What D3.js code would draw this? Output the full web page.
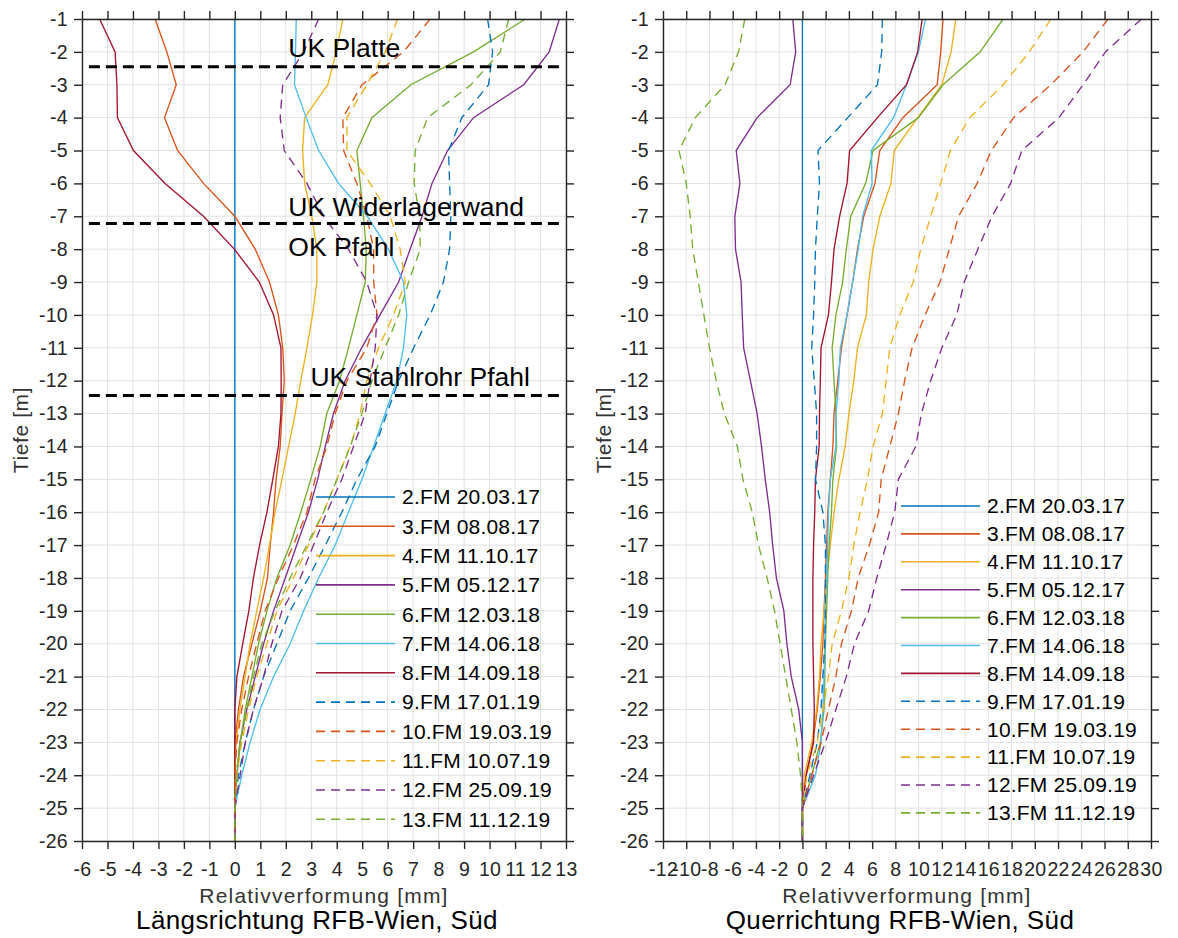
<!DOCTYPE html>
<html><head><meta charset="utf-8">
<script src="https://cdn.jsdelivr.net/npm/d3@7"></script>
<style>
body{margin:0;background:#fff;}
svg{display:block;}
text{font-family:"Liberation Sans",Arial,sans-serif;}
</style></head>
<body>
<svg id="chart" width="1178" height="938"></svg>
<script>
// ---------- DATA ----------
const depths = d3.range(-1, -27, -1); // -1 ... -26 m

const seriesNames = ["2.FM 20.03.17","3.FM 08.08.17","4.FM 11.10.17","5.FM 05.12.17","6.FM 12.03.18","7.FM 14.06.18","8.FM 14.09.18","9.FM 17.01.19","10.FM 19.03.19","11.FM 10.07.19","12.FM 25.09.19","13.FM 11.12.19"];
const seriesColors = ["#0072BD","#D95319","#EDB120","#7E2F8E","#77AC30","#4DBEEE","#A2142F","#0072BD","#D95319","#EDB120","#7E2F8E","#77AC30"];
const seriesDashed = [false,false,false,false,false,false,false,true,true,true,true,true];

// Längsrichtung (left panel)
const L2  = [0,0,0,0,0,0,0,0,0,0,0,0,0,0,0,0,0,0,0,0,0,0,0,0,0,0];
const L3  = [-3.13,-2.67,-2.30,-2.76,-2.25,-1.23,0,0.80,1.36,1.71,1.88,1.94,1.85,1.78,1.62,1.52,1.39,1.28,1.0,0.67,0.34,0.14,0.01,0,0,0];
const L4  = [4.24,3.98,3.65,2.74,2.66,2.74,3.02,3.22,3.22,3.05,2.83,2.59,2.37,2.11,1.85,1.58,1.36,1.13,0.86,0.60,0.40,0.20,0.05,0,0,0];
const L5  = [12.74,12.34,11.34,9.37,8.35,7.74,7.35,6.88,6.43,5.70,4.98,4.33,3.87,3.55,3.25,2.89,2.43,1.98,1.52,1.13,0.80,0.47,0.20,0.08,0,0];
const L6  = [11.40,9.37,6.91,5.38,4.79,4.92,5.05,5.16,5.12,4.79,4.46,4.11,3.61,3.35,2.98,2.59,2.17,1.65,1.26,0.93,0.67,0.41,0.21,0.08,0,0];
const L7  = [2.41,2.38,2.34,2.80,3.29,4.07,5.20,6.03,6.62,6.75,6.62,6.36,5.90,5.45,4.99,4.46,3.94,3.29,2.70,2.17,1.52,0.99,0.60,0.27,0,0];
const L8  = [-5.31,-4.70,-4.63,-4.61,-3.98,-2.74,-1.23,-0.02,0.96,1.52,1.81,1.82,1.81,1.71,1.49,1.26,0.97,0.73,0.55,0.31,0.08,0,0,0,0,0];
const L9  = [9.92,10.12,9.96,8.91,8.39,8.43,8.48,8.43,8.19,7.67,7.02,6.43,5.97,5.51,4.79,4.20,3.55,2.89,2.17,1.65,1.13,0.73,0.41,0.14,0,0];
const L10 = [7.67,6.62,4.99,4.24,4.27,4.79,5.18,5.45,5.45,5.58,5.18,4.40,3.94,3.61,3.15,2.83,2.30,1.71,1.19,0.86,0.54,0.27,0.08,0,0,0];
const L11 = [6.39,5.90,5.18,4.40,4.40,5.31,6.10,6.49,6.69,6.23,5.64,5.18,4.92,4.53,4.01,3.48,2.89,2.30,1.65,1.26,0.86,0.54,0.27,0.08,0,0];
const L12 = [3.29,2.70,1.88,1.78,1.94,2.83,3.48,4.46,5.18,5.58,5.51,5.31,5.12,4.66,4.20,3.61,3.09,2.57,1.85,1.45,1.13,0.73,0.41,0.21,0,0];
const L13 = [10.75,10.42,9.27,7.57,7.08,7.04,7.25,7.28,6.82,6.43,5.90,5.38,4.99,4.53,4.01,3.48,2.83,2.17,1.58,1.06,0.73,0.47,0.21,0.05,0,0];

// Querrichtung (right panel)
const R2  = [0,0,0,0,0,0,0,0,0,0,0,0,0,0,0,0,0,0,0,0,0,0,0,0,0,0];
const R3  = [12.1,11.9,11.6,8.64,6.66,6.24,5.28,4.74,4.32,3.84,3.36,3.04,2.72,2.62,2.4,2.18,2.08,1.98,1.86,1.76,1.54,1.28,0.9,0.32,0,0];
const R4  = [13.2,12.8,12.0,9.92,7.9,7.62,6.66,6.08,5.7,5.5,4.74,4.42,4.0,3.68,3.14,2.72,2.4,2.08,1.86,1.6,1.47,1.22,0.8,0.16,0,0];
const R5  = [-0.83,-0.58,-1.06,-3.9,-5.7,-5.38,-5.82,-5.76,-5.28,-5.18,-5.06,-4.48,-3.9,-3.52,-3.2,-2.82,-2.56,-2.24,-1.6,-1.34,-0.96,-0.32,0,0,0,0];
const R6  = [17.28,15.3,12.1,9.98,6.08,5.44,4.16,3.78,3.46,2.88,2.56,2.72,2.88,2.94,2.62,2.5,2.3,2.18,2.08,1.98,1.92,1.86,1.54,0.8,0,0];
const R7  = [10.6,9.98,8.96,7.84,5.92,6.0,5.18,4.8,4.32,3.84,3.26,3.14,2.88,2.88,2.4,2.24,2.18,2.08,1.98,1.92,1.86,1.76,1.6,1.12,0,0];
const R8  = [10.3,9.92,8.96,6.46,4.06,3.84,3.2,2.72,2.5,2.24,1.6,1.54,1.47,1.44,1.12,1.06,0.96,0.9,0.9,0.9,0.96,1.02,0.96,0.32,0,0];
const R9  = [6.88,6.82,6.46,3.9,1.34,1.47,1.28,1.12,1.06,0.96,0.8,1.02,1.22,1.22,1.12,1.76,1.98,1.98,1.98,1.92,1.76,1.6,1.28,0.64,0,0];
const R10 = [26.3,24.16,21.38,18.18,16.26,15.04,13.44,12.64,11.84,10.56,9.44,8.8,8.26,7.52,6.78,6.56,5.76,4.8,4.22,3.36,2.88,2.24,1.6,0.8,0,0];
const R11 = [21.38,19.52,17.28,14.4,12.74,11.9,11.04,10.18,9.54,8.38,7.52,7.2,6.88,6.08,5.6,4.96,4.42,4.0,3.36,2.56,2.24,1.76,1.28,0.38,0,0];
const R12 = [29.18,26.08,24.16,22.08,18.88,17.92,16.32,15.1,13.92,13.28,12.0,11.04,10.24,9.76,8.26,7.94,7.2,6.4,5.7,4.48,3.78,2.88,1.98,0.96,0,0];
const R13 = [-4.96,-5.5,-6.66,-9.22,-10.62,-10.0,-9.66,-9.44,-8.96,-8.48,-8.0,-7.42,-6.72,-5.6,-5.12,-4.32,-3.78,-3.04,-2.4,-1.92,-1.44,-0.96,-0.48,-0.16,0,0];

const leftSeries  = [L2,L3,L4,L5,L6,L7,L8,L9,L10,L11,L12,L13];
const rightSeries = [R2,R3,R4,R5,R6,R7,R8,R9,R10,R11,R12,R13];

const leftXTicks  = d3.range(-6, 14, 1);
const rightXTicks = d3.range(-12, 31, 2);
const yTicks      = d3.range(-1, -27, -1);

// annotation lines (left panel)
const markerDepths = [-2.45, -7.22, -12.45];
const markerTexts  = [
  {t:"UK Platte", x:2.1, y:-2.17},
  {t:"UK Widerlagerwand", x:2.1, y:-6.98},
  {t:"OK Pfahl", x:2.1, y:-8.2},
  {t:"UK Stahlrohr Pfahl", x:2.97, y:-12.16}
];

const titles = ["Längsrichtung RFB-Wien, Süd","Querrichtung RFB-Wien, Süd"];

// ---------- DRAW ----------
const svg = d3.select("#chart");
const plotTop = 19, plotBottom = 841;

function panel(cfg){
  const g = svg.append("g");
  const x = d3.scaleLinear().domain(cfg.xDomain).range([cfg.x0, cfg.x1]);
  const y = d3.scaleLinear().domain([-1, -26]).range([plotTop, plotBottom]);
  const fmt = d => String(d);

  // grid
  g.append("g").selectAll("line").data(cfg.xTicks).join("line")
    .attr("x1", d=>x(d)).attr("x2", d=>x(d)).attr("y1", plotTop).attr("y2", plotBottom)
    .attr("stroke", "#e1e1e1").attr("stroke-width", 1);
  g.append("g").selectAll("line").data(yTicks).join("line")
    .attr("y1", d=>y(d)).attr("y2", d=>y(d)).attr("x1", cfg.x0).attr("x2", cfg.x1)
    .attr("stroke", "#e1e1e1").attr("stroke-width", 1);

  // data lines
  const line = d3.line().x(d=>x(d[0])).y(d=>y(d[1]));
  cfg.series.forEach((s,i)=>{
    g.append("path")
      .datum(s.map((v,k)=>[v, depths[k]]))
      .attr("d", line)
      .attr("fill","none")
      .attr("stroke", seriesColors[i])
      .attr("stroke-width", 1.35)
      .attr("stroke-dasharray", seriesDashed[i] ? "9,6" : null);
  });

  // axes
  const axStyle = sel => {
    sel.selectAll("path").attr("stroke","#262626").attr("stroke-width",1.4);
    sel.selectAll("line").attr("stroke","#262626").attr("stroke-width",1.4);
    sel.selectAll("text").attr("fill","#262626").style("font-size","19.5px").style("letter-spacing","0.3px")
      .style("font-family",'"Liberation Sans",Arial,sans-serif');
  };
  const ax = g.append("g").attr("transform",`translate(0,${plotBottom})`)
    .call(d3.axisBottom(x).tickValues(cfg.xTicks).tickFormat(fmt).tickSize(8).tickSizeOuter(0).tickPadding(13));
  axStyle(ax);
  const axT = g.append("g").attr("transform",`translate(0,${plotTop})`)
    .call(d3.axisTop(x).tickValues(cfg.xTicks).tickFormat("").tickSize(8).tickSizeOuter(0));
  axStyle(axT);
  const ay = g.append("g").attr("transform",`translate(${cfg.x0},0)`)
    .call(d3.axisLeft(y).tickValues(yTicks).tickFormat(fmt).tickSize(8).tickSizeOuter(0).tickPadding(6));
  axStyle(ay);
  const ayR = g.append("g").attr("transform",`translate(${cfg.x1},0)`)
    .call(d3.axisRight(y).tickValues(yTicks).tickFormat("").tickSize(8).tickSizeOuter(0));
  axStyle(ayR);

  // labels
  g.append("text").attr("x",(cfg.x0+cfg.x1)/2).attr("y",903).attr("text-anchor","middle")
    .attr("fill","#333").style("font-size","21px").style("letter-spacing","1.2px")
    .text("Relativverformung [mm]");
  g.append("text").attr("x",(cfg.x0+cfg.x1)/2-7).attr("y",929).attr("text-anchor","middle")
    .attr("fill","#000").style("font-size","26px").style("letter-spacing","0.4px")
    .text(cfg.title);
  g.append("text").attr("transform",`translate(${cfg.yLabelX},430) rotate(-90)`)
    .attr("text-anchor","middle").attr("fill","#333").style("font-size","21px").style("letter-spacing","0.6px")
    .text("Tiefe [m]");

  // legend
  const lg = g.append("g");
  seriesNames.forEach((n,i)=>{
    const yy = cfg.legY0 + i*cfg.legDy;
    lg.append("line").attr("x1",cfg.legX0).attr("x2",cfg.legX1).attr("y1",yy).attr("y2",yy)
      .attr("stroke",seriesColors[i]).attr("stroke-width",1.6)
      .attr("stroke-dasharray", seriesDashed[i] ? "9,6" : null);
    lg.append("text").attr("x",cfg.legX1+7).attr("y",yy).attr("dy","0.35em")
      .attr("fill","#000").style("font-size","21px").style("letter-spacing","0.2px").text(n);
  });
  return {g,x,y};
}

const P1 = panel({xDomain:[-6,13], x0:82, x1:566, xTicks:leftXTicks, series:leftSeries,
  title:titles[0], yLabelX:28, legX0:316, legX1:395, legY0:497, legDy:29.3});
const P2 = panel({xDomain:[-12,30], x0:663, x1:1151, xTicks:rightXTicks, series:rightSeries,
  title:titles[1], yLabelX:611, legX0:901, legX1:980, legY0:506, legDy:27.9});

// annotation dashed lines + texts (left)
markerDepths.forEach(d=>{
  P1.g.append("line").attr("x1",P1.x(-5.73)).attr("x2",P1.x(12.88))
    .attr("y1",P1.y(d)).attr("y2",P1.y(d))
    .attr("stroke","#000").attr("stroke-width",3).attr("stroke-dasharray","11,6");
});
markerTexts.forEach(m=>{
  P1.g.append("text").attr("x",P1.x(m.x)).attr("y",P1.y(m.y))
    .attr("fill","#000").style("font-size","26.5px").text(m.t);
});
</script>
</body></html>
